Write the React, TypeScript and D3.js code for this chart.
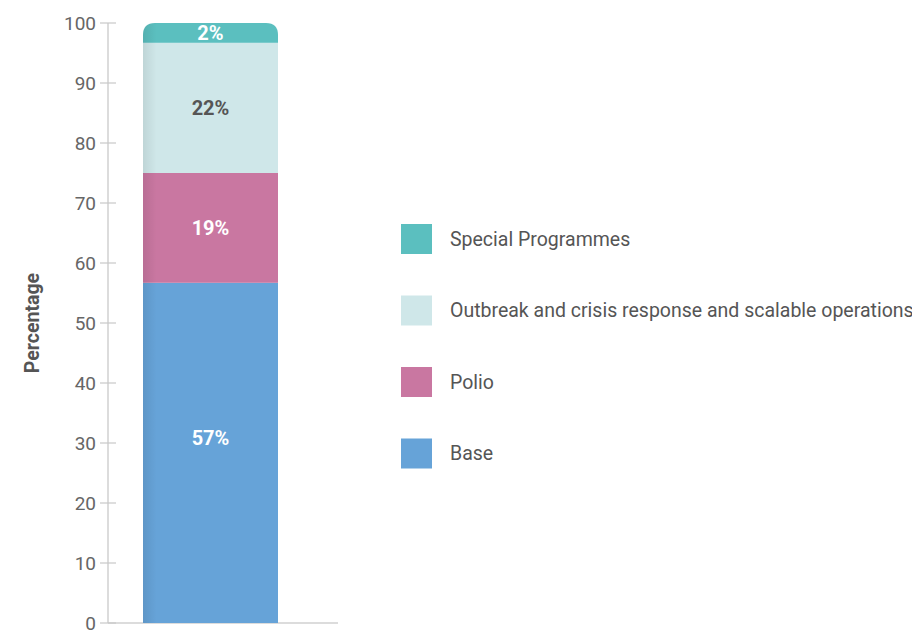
import React from "react";
import * as d3 from "d3";

const categories = ["Base", "Polio", "Outbreak and crisis response and scalable operations", "Special Programmes"];
const values = [56.7, 18.3, 21.7, 3.3];
const valueLabels = ["57%", "19%", "22%", "2%"];
const colors = ["#66a3d8", "#c977a1", "#cfe7e9", "#5bbfbf"];
const labelColors = ["#ffffff", "#ffffff", "#555555", "#ffffff"];
const yTicks = [0, 10, 20, 30, 40, 50, 60, 70, 80, 90, 100];
const legendOrder = [3, 2, 1, 0];

export default function App() {
  const W = 912, H = 630;
  const y = d3.scaleLinear().domain([0, 100]).range([623, 23]);
  const x0 = 143, x1 = 278;
  const axisX = 108;
  const font = "Roboto, 'Noto Sans', sans-serif";
  const stacked: { y0: number; y1: number; i: number }[] = [];
  let acc = 0;
  values.forEach((v, i) => {
    stacked.push({ y0: acc, y1: acc + v, i });
    acc += v;
  });
  const r = 12;
  const topY = y(acc);
  return (
    <svg width={W} height={H} style={{ position: "absolute", left: 0, top: 0, background: "#fff" }}>
      <defs>
        <clipPath id="barclip">
          <path d={`M${x0},${y(0)} L${x0},${topY + r} Q${x0},${topY} ${x0 + r},${topY} L${x1 - r},${topY} Q${x1},${topY} ${x1},${topY + r} L${x1},${y(0)} Z`} />
        </clipPath>
        <linearGradient id="shade" x1="0" x2="1" y1="0" y2="0">
          <stop offset="0" stopColor="#000" stopOpacity="0.08" />
          <stop offset="0.1" stopColor="#000" stopOpacity="0" />
        </linearGradient>
      </defs>
      <line x1={axisX} x2={axisX} y1={y(100)} y2={y(0)} stroke="#d0d0d0" strokeWidth={1.5} />
      <line x1={axisX} x2={338} y1={y(0)} y2={y(0)} stroke="#d0d0d0" strokeWidth={1.5} />
      {yTicks.map((t) => (
        <g key={t}>
          <line x1={100} x2={116} y1={y(t)} y2={y(t)} stroke="#c8c8c8" strokeWidth={1.2} />
          <text x={96} y={y(t)} dy="0.35em" textAnchor="end" fontFamily={font} fontSize={19} fill="#666">{t}</text>
        </g>
      ))}
      <text transform={`translate(39,323) rotate(-90)`} textAnchor="middle" fontFamily={font} fontSize={19.5} fontWeight="bold" fill="#555">Percentage</text>
      <g clipPath="url(#barclip)">
        {stacked.map((s) => (
          <rect key={s.i} x={x0} width={x1 - x0} y={y(s.y1)} height={y(s.y0) - y(s.y1)} fill={colors[s.i]} />
        ))}
        <rect x={x0} width={x1 - x0} y={topY} height={y(0) - topY} fill="url(#shade)" />
      </g>
      {stacked.map((s, k) => {
        const mid = (y(s.y0) + y(s.y1)) / 2 - (k === 0 ? 15 : 0);
        return (
          <text key={s.i} x={(x0 + x1) / 2} y={mid} dy="0.35em" textAnchor="middle" fontFamily={font} fontSize={20} fontWeight="bold" fill={labelColors[s.i]}>{valueLabels[s.i]}</text>
        );
      })}
      {legendOrder.map((idx, k) => {
        const cy = 239 + k * 71.5;
        return (
          <g key={idx}>
            <rect x={401} y={cy - 15} width={31} height={30} fill={colors[idx]} />
            <text x={450} y={cy} dy="0.35em" fontFamily={font} fontSize={19.5} fill="#555">{categories[idx]}</text>
          </g>
        );
      })}
    </svg>
  );
}
